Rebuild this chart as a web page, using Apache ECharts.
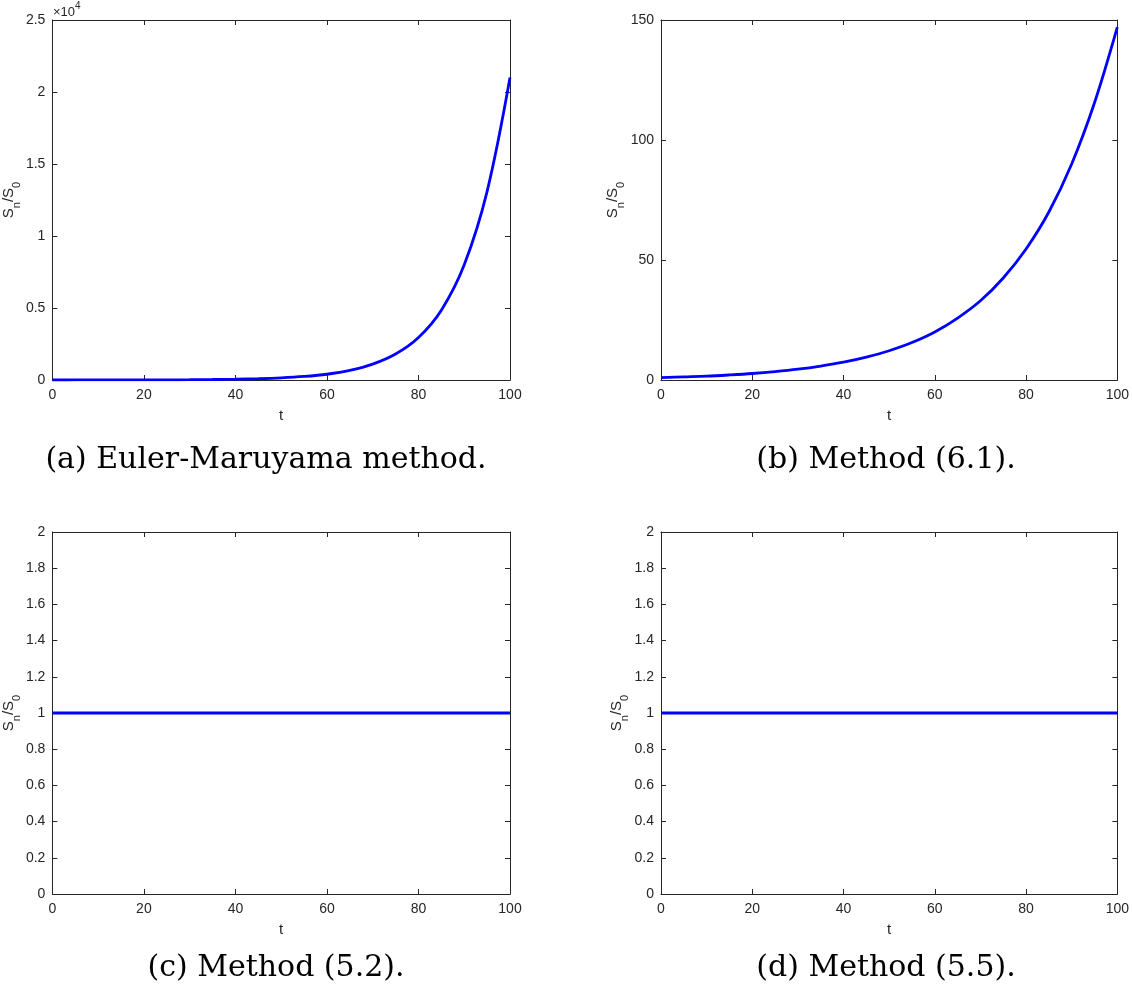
<!DOCTYPE html>
<html><head><meta charset="utf-8">
<script src="https://cdn.jsdelivr.net/npm/echarts@6/dist/echarts.min.js"></script>
<style>html,body{margin:0;padding:0;background:#fff}#c{width:1132px;height:988px}</style>
</head><body><div id="c"></div>
<script>
// ---- data ----
const tValues = [0,5,10,15,20,25,30,35,40,45,50,55,60,65,70,75,80,85,90,95,100];
// (a) Euler-Maruyama: S_n/S_0
const eulerValues = [1,2,3,4,7,12,20,33,55,90,148,245,400,665,1100,1800,2950,4850,8000,13100,21000];
// (b) Method (6.1)
const method61Values = [1,1.3,1.6,2.1,2.7,3.5,4.5,5.8,7.4,9.5,12.2,15.6,20,25.8,33,42.5,54.6,70,90,115.5,147];
// (c) Method (5.2) and (d) Method (5.5): constant
const flatT = [0,100];
const method52Values = [1,1];
const method55Values = [1,1];
const captions = ['(a) Euler-Maruyama method.','(b) Method (6.1).','(c) Method (5.2).','(d) Method (5.5).'];
const xTickInterval = 20;

const axisColor = '#262626';
const lineColor = '#0000ff';
const grids = [
  {left:52, top:20, width:458, height:360},
  {left:661, top:20, width:458, height:360},
  {left:52, top:532, width:458, height:362},
  {left:661, top:532, width:458, height:362}
];
const yCfg = [
  {min:0, max:25000, interval:5000, fmt:v=>String(v/10000)},
  {min:0, max:150, interval:50, fmt:v=>String(v)},
  {min:0, max:2, interval:0.2, fmt:v=>String(Math.round(v*10)/10)},
  {min:0, max:2, interval:0.2, fmt:v=>String(Math.round(v*10)/10)}
];
const seriesData = [
  tValues.map((t,i)=>[t,eulerValues[i]]),
  tValues.map((t,i)=>[t,method61Values[i]]),
  flatT.map((t,i)=>[t,method52Values[i]]),
  flatT.map((t,i)=>[t,method55Values[i]])
];
const sans = 'Liberation Sans, Arial, sans-serif';
const labelFont = {fontFamily:sans, fontSize:14, color:axisColor};
const xAxes = [], yAxes = [], series = [];
grids.forEach((g,i)=>{
  const common = {axisLine:{show:true,onZero:false,lineStyle:{color:axisColor,width:1}}, axisTick:{show:true,inside:true,length:5,lineStyle:{color:axisColor}}, splitLine:{show:false}};
  xAxes.push(Object.assign({type:'value', gridIndex:i, min:0, max:100, interval:xTickInterval, position:'bottom',
    axisLabel:Object.assign({margin:8}, labelFont), name:'t', nameLocation:'middle', nameGap:28,
    nameTextStyle:Object.assign({}, labelFont, {fontSize:15})}, common));
  xAxes.push(Object.assign({type:'value', gridIndex:i, min:0, max:100, interval:xTickInterval, position:'top', axisLabel:{show:false}}, common));
  yAxes.push(Object.assign({type:'value', gridIndex:i, min:yCfg[i].min, max:yCfg[i].max, interval:yCfg[i].interval, position:'left',
    axisLabel:Object.assign({margin:7, formatter:yCfg[i].fmt}, labelFont),
    name:'{b|S}{s|n}{b|/S}{s|0}', nameLocation:'middle', nameRotate:90, nameGap: i===1 ? 19 : 17,
    nameTextStyle:{rich:{
      b:{fontFamily:sans, fontSize:15, color:axisColor, lineHeight:21, verticalAlign:'top'},
      s:{fontFamily:sans, fontSize:11, color:axisColor, lineHeight:21, verticalAlign:'bottom'}
    }}}, common));
  yAxes.push(Object.assign({type:'value', gridIndex:i, min:yCfg[i].min, max:yCfg[i].max, interval:yCfg[i].interval, position:'right', axisLabel:{show:false}}, common));
  series.push({type:'line', xAxisIndex:2*i, yAxisIndex:2*i, data:seriesData[i], showSymbol:false, smooth:0.35,
    lineStyle:{color:lineColor, width:2.8}, itemStyle:{color:lineColor}, animation:false, z:1});
});
const capPos = [[266,460],[886,460],[276,968],[886,968]];
const graphic = captions.map((c,i)=>({type:'text', x:capPos[i][0], y:capPos[i][1],
  style:{text:c, fontFamily:'DejaVu Serif, Liberation Serif, serif', fontSize:30, fill:'#000', align:'center', verticalAlign:'middle'}}));
graphic.push({type:'text', x:53, y:10, style:{text:'{a|×10}{p|4}', align:'left', verticalAlign:'middle',
  rich:{a:{fontFamily:sans, fontSize:13, fill:axisColor, lineHeight:18, verticalAlign:'bottom'},
        p:{fontFamily:sans, fontSize:10, fill:axisColor, lineHeight:18, verticalAlign:'top'}}}});
const chart = echarts.init(document.getElementById('c'));
chart.setOption({backgroundColor:'#fff', animation:false, grid:grids, xAxis:xAxes, yAxis:yAxes, series:series, graphic:graphic});
</script></body></html>
